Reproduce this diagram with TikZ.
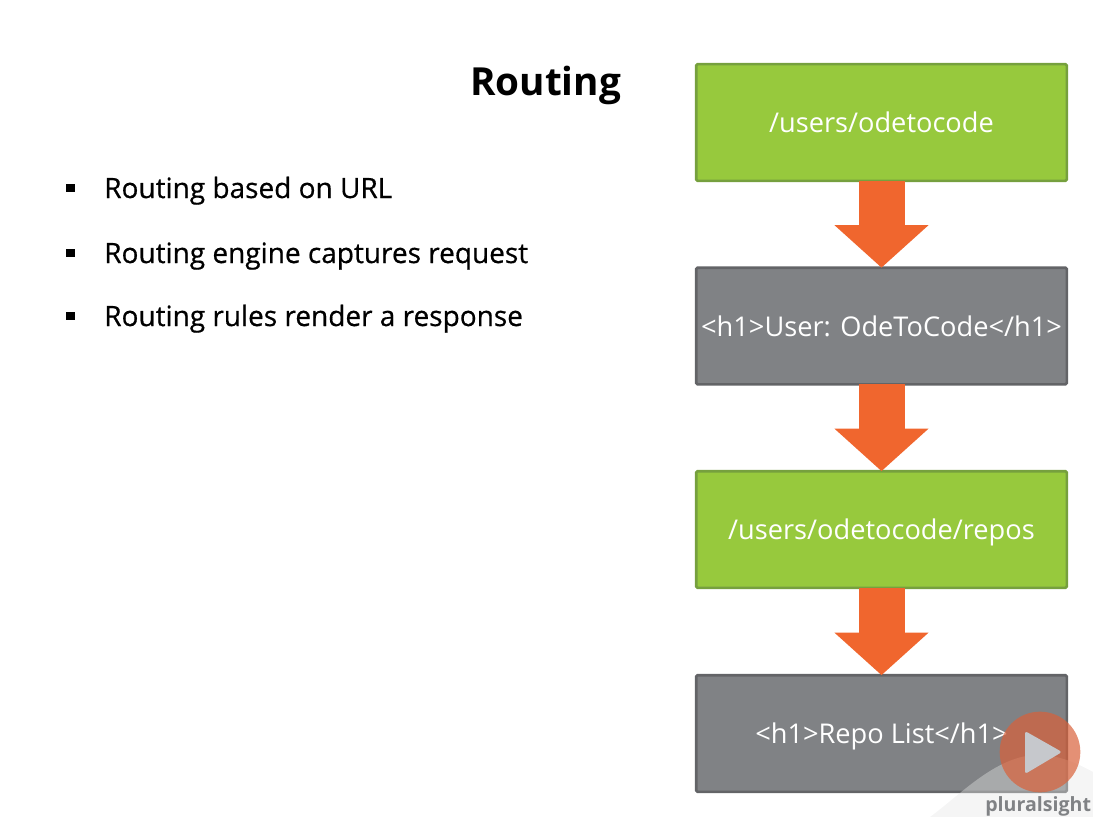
\documentclass[tikz,border=0pt]{standalone}
\usepackage{fontspec}
\setmainfont{Open Sans}
\newfontfamily\pointfont[FakeBold=0.6]{Open Sans}
\usetikzlibrary{arrows.meta}
\definecolor{routegreen}{HTML}{97C93D}
\definecolor{routegreenedge}{HTML}{76A03E}
\definecolor{routegray}{HTML}{808285}
\definecolor{routegrayedge}{HTML}{636467}
\definecolor{flowarrow}{HTML}{F0662E}
\definecolor{playorange}{HTML}{D9613A}
\definecolor{playmark}{HTML}{C6C8CC}
\definecolor{swoosh}{HTML}{E6E6E6}
\tikzset{
  urlbox/.style={draw=routegreenedge, fill=routegreen, line width=2pt, text=white, rounded corners=1pt,
    minimum width=278pt, minimum height=87.5pt, inner sep=0pt, outer sep=0pt,
    text height=19pt, text depth=4pt, font=\fontsize{20.4}{24}\selectfont},
  htmlbox/.style={urlbox, draw=routegrayedge, fill=routegray},
  flow/.style={flowarrow, line width=34.5pt, -{Triangle[length=32pt,width=69pt]}},
  pointtext/.style={anchor=base west, inner sep=0pt, font=\fontsize{21}{26}\pointfont},
  pointmark/.style={fill=black, minimum size=6.5pt, inner sep=0pt}
}
\begin{document}
\begin{tikzpicture}[x=0.75pt, y=-0.75pt]
  \useasboundingbox (0,0) rectangle (1093,817);
  % title and points
  \node[anchor=base west, inner sep=0pt, font=\fontsize{29}{34}\selectfont\bfseries] (title) at (470,96) {Routing};
  \node[pointmark] (markA) at (70.5,188) {};
  \node[pointmark] (markB) at (70.5,253) {};
  \node[pointmark] (markC) at (70.5,316) {};
  \node[pointtext] (pointA) at (104,198) {Routing based on URL};
  \node[pointtext] (pointB) at (104,263) {Routing engine captures request};
  \node[pointtext] (pointC) at (104,326) {Routing rules render a response};
  % boxes, top to bottom
  \node[urlbox] (userurl) at (881.5,122.5) {/users/odetocode};
  \node[htmlbox] (userhtml) at (881.5,326) {<h1>User: OdeToCode</h1>};
  \node[urlbox] (repourl) at (881.5,529.5) {/users/odetocode/repos};
  \node[htmlbox] (repohtml) at (881.5,733.5) {<h1>Repo List</h1>};
  \draw[flow] (userurl.south) -- (userhtml.north);
  \draw[flow] (userhtml.south) -- (repourl.north);
  \draw[flow] (repourl.south) -- (repohtml.north);
  % player overlay
  \fill[swoosh, fill opacity=0.4] (930,817) .. controls (960,795) and (995,757) .. (1035,755)
    .. controls (1055,754) and (1075,762) .. (1093,772) -- (1093,817) -- cycle;
  \node[circle, fill=playorange, fill opacity=0.7, minimum size=60.5pt, inner sep=0pt] (play) at (1040,752) {};
  \fill[playmark, rounded corners=2pt] (1025,731) -- (1062,752) -- (1025,774) -- cycle;
  \node[anchor=base west, inner sep=0pt, text=routegray, font=\fontsize{14.7}{18}\selectfont\bfseries] (logo) at (985,811.5) {pluralsight};
\end{tikzpicture}
\end{document}
